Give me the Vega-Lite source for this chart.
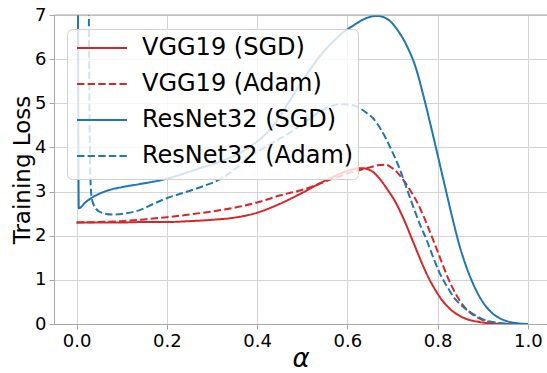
{
  "$schema": "https://vega.github.io/schema/vega-lite/v6.json",
  "width": 493,
  "height": 309,
  "autosize": "none",
  "padding": {"left": 54, "top": 15, "right": 0, "bottom": 49},
  "config": {
    "view": {"stroke": null},
    "font": "DejaVu Sans",
    "axis": {"labelFont": "DejaVu Sans", "titleFont": "DejaVu Sans", "labelColor": "#000", "titleColor": "#000", "labelFontSize": 18, "tickColor": "#a8a8a8", "domainColor": "#a8a8a8", "gridColor": "#d4d4d4", "tickSize": 5, "titleFontWeight": "normal"},
    "legend": {"zindex": 1}
  },
  "datasets": {
    "curves": [
      {"a": 0.0, "loss": 2.30, "s": "VGG19 (SGD)"},
      {"a": 0.05, "loss": 2.30, "s": "VGG19 (SGD)"},
      {"a": 0.1, "loss": 2.30, "s": "VGG19 (SGD)"},
      {"a": 0.15, "loss": 2.31, "s": "VGG19 (SGD)"},
      {"a": 0.2, "loss": 2.31, "s": "VGG19 (SGD)"},
      {"a": 0.25, "loss": 2.33, "s": "VGG19 (SGD)"},
      {"a": 0.3, "loss": 2.36, "s": "VGG19 (SGD)"},
      {"a": 0.35, "loss": 2.41, "s": "VGG19 (SGD)"},
      {"a": 0.4, "loss": 2.52, "s": "VGG19 (SGD)"},
      {"a": 0.45, "loss": 2.72, "s": "VGG19 (SGD)"},
      {"a": 0.5, "loss": 2.97, "s": "VGG19 (SGD)"},
      {"a": 0.54, "loss": 3.19, "s": "VGG19 (SGD)"},
      {"a": 0.585, "loss": 3.41, "s": "VGG19 (SGD)"},
      {"a": 0.61, "loss": 3.50, "s": "VGG19 (SGD)"},
      {"a": 0.633, "loss": 3.53, "s": "VGG19 (SGD)"},
      {"a": 0.655, "loss": 3.46, "s": "VGG19 (SGD)"},
      {"a": 0.67, "loss": 3.31, "s": "VGG19 (SGD)"},
      {"a": 0.68, "loss": 3.18, "s": "VGG19 (SGD)"},
      {"a": 0.69, "loss": 3.03, "s": "VGG19 (SGD)"},
      {"a": 0.70, "loss": 2.88, "s": "VGG19 (SGD)"},
      {"a": 0.71, "loss": 2.70, "s": "VGG19 (SGD)"},
      {"a": 0.72, "loss": 2.49, "s": "VGG19 (SGD)"},
      {"a": 0.73, "loss": 2.26, "s": "VGG19 (SGD)"},
      {"a": 0.74, "loss": 2.01, "s": "VGG19 (SGD)"},
      {"a": 0.75, "loss": 1.76, "s": "VGG19 (SGD)"},
      {"a": 0.76, "loss": 1.51, "s": "VGG19 (SGD)"},
      {"a": 0.77, "loss": 1.27, "s": "VGG19 (SGD)"},
      {"a": 0.78, "loss": 1.05, "s": "VGG19 (SGD)"},
      {"a": 0.79, "loss": 0.86, "s": "VGG19 (SGD)"},
      {"a": 0.80, "loss": 0.69, "s": "VGG19 (SGD)"},
      {"a": 0.81, "loss": 0.54, "s": "VGG19 (SGD)"},
      {"a": 0.82, "loss": 0.42, "s": "VGG19 (SGD)"},
      {"a": 0.83, "loss": 0.32, "s": "VGG19 (SGD)"},
      {"a": 0.84, "loss": 0.24, "s": "VGG19 (SGD)"},
      {"a": 0.85, "loss": 0.18, "s": "VGG19 (SGD)"},
      {"a": 0.86, "loss": 0.13, "s": "VGG19 (SGD)"},
      {"a": 0.875, "loss": 0.08, "s": "VGG19 (SGD)"},
      {"a": 0.89, "loss": 0.05, "s": "VGG19 (SGD)"},
      {"a": 0.91, "loss": 0.02, "s": "VGG19 (SGD)"},
      {"a": 0.93, "loss": 0.005, "s": "VGG19 (SGD)"},
      {"a": 0.96, "loss": 0.0, "s": "VGG19 (SGD)"},
      {"a": 1.0, "loss": 0.0, "s": "VGG19 (SGD)"},

      {"a": 0.0, "loss": 2.30, "s": "VGG19 (Adam)"},
      {"a": 0.05, "loss": 2.31, "s": "VGG19 (Adam)"},
      {"a": 0.1, "loss": 2.33, "s": "VGG19 (Adam)"},
      {"a": 0.15, "loss": 2.37, "s": "VGG19 (Adam)"},
      {"a": 0.2, "loss": 2.42, "s": "VGG19 (Adam)"},
      {"a": 0.25, "loss": 2.48, "s": "VGG19 (Adam)"},
      {"a": 0.3, "loss": 2.55, "s": "VGG19 (Adam)"},
      {"a": 0.362, "loss": 2.66, "s": "VGG19 (Adam)"},
      {"a": 0.406, "loss": 2.77, "s": "VGG19 (Adam)"},
      {"a": 0.45, "loss": 2.91, "s": "VGG19 (Adam)"},
      {"a": 0.51, "loss": 3.07, "s": "VGG19 (Adam)"},
      {"a": 0.554, "loss": 3.24, "s": "VGG19 (Adam)"},
      {"a": 0.598, "loss": 3.40, "s": "VGG19 (Adam)"},
      {"a": 0.643, "loss": 3.53, "s": "VGG19 (Adam)"},
      {"a": 0.67, "loss": 3.60, "s": "VGG19 (Adam)"},
      {"a": 0.685, "loss": 3.61, "s": "VGG19 (Adam)"},
      {"a": 0.70, "loss": 3.53, "s": "VGG19 (Adam)"},
      {"a": 0.71, "loss": 3.44, "s": "VGG19 (Adam)"},
      {"a": 0.72, "loss": 3.32, "s": "VGG19 (Adam)"},
      {"a": 0.73, "loss": 3.18, "s": "VGG19 (Adam)"},
      {"a": 0.74, "loss": 3.02, "s": "VGG19 (Adam)"},
      {"a": 0.75, "loss": 2.85, "s": "VGG19 (Adam)"},
      {"a": 0.76, "loss": 2.65, "s": "VGG19 (Adam)"},
      {"a": 0.77, "loss": 2.42, "s": "VGG19 (Adam)"},
      {"a": 0.78, "loss": 2.17, "s": "VGG19 (Adam)"},
      {"a": 0.79, "loss": 1.91, "s": "VGG19 (Adam)"},
      {"a": 0.80, "loss": 1.65, "s": "VGG19 (Adam)"},
      {"a": 0.81, "loss": 1.38, "s": "VGG19 (Adam)"},
      {"a": 0.82, "loss": 1.12, "s": "VGG19 (Adam)"},
      {"a": 0.83, "loss": 0.89, "s": "VGG19 (Adam)"},
      {"a": 0.84, "loss": 0.69, "s": "VGG19 (Adam)"},
      {"a": 0.85, "loss": 0.52, "s": "VGG19 (Adam)"},
      {"a": 0.86, "loss": 0.38, "s": "VGG19 (Adam)"},
      {"a": 0.87, "loss": 0.28, "s": "VGG19 (Adam)"},
      {"a": 0.88, "loss": 0.20, "s": "VGG19 (Adam)"},
      {"a": 0.89, "loss": 0.14, "s": "VGG19 (Adam)"},
      {"a": 0.90, "loss": 0.09, "s": "VGG19 (Adam)"},
      {"a": 0.92, "loss": 0.04, "s": "VGG19 (Adam)"},
      {"a": 0.94, "loss": 0.01, "s": "VGG19 (Adam)"},
      {"a": 0.96, "loss": 0.0, "s": "VGG19 (Adam)"},
      {"a": 1.0, "loss": 0.0, "s": "VGG19 (Adam)"},

      {"a": 0.0, "loss": 30, "s": "ResNet32 (SGD)"},
      {"a": 0.005, "loss": 2.62, "s": "ResNet32 (SGD)"},
      {"a": 0.02, "loss": 2.76, "s": "ResNet32 (SGD)"},
      {"a": 0.037, "loss": 2.88, "s": "ResNet32 (SGD)"},
      {"a": 0.055, "loss": 2.97, "s": "ResNet32 (SGD)"},
      {"a": 0.074, "loss": 3.04, "s": "ResNet32 (SGD)"},
      {"a": 0.1, "loss": 3.10, "s": "ResNet32 (SGD)"},
      {"a": 0.14, "loss": 3.17, "s": "ResNet32 (SGD)"},
      {"a": 0.2, "loss": 3.29, "s": "ResNet32 (SGD)"},
      {"a": 0.25, "loss": 3.45, "s": "ResNet32 (SGD)"},
      {"a": 0.273, "loss": 3.53, "s": "ResNet32 (SGD)"},
      {"a": 0.31, "loss": 3.65, "s": "ResNet32 (SGD)"},
      {"a": 0.347, "loss": 3.80, "s": "ResNet32 (SGD)"},
      {"a": 0.385, "loss": 4.02, "s": "ResNet32 (SGD)"},
      {"a": 0.421, "loss": 4.32, "s": "ResNet32 (SGD)"},
      {"a": 0.44, "loss": 4.55, "s": "ResNet32 (SGD)"},
      {"a": 0.458, "loss": 4.83, "s": "ResNet32 (SGD)"},
      {"a": 0.477, "loss": 5.13, "s": "ResNet32 (SGD)"},
      {"a": 0.495, "loss": 5.43, "s": "ResNet32 (SGD)"},
      {"a": 0.515, "loss": 5.73, "s": "ResNet32 (SGD)"},
      {"a": 0.532, "loss": 5.97, "s": "ResNet32 (SGD)"},
      {"a": 0.55, "loss": 6.20, "s": "ResNet32 (SGD)"},
      {"a": 0.569, "loss": 6.40, "s": "ResNet32 (SGD)"},
      {"a": 0.59, "loss": 6.60, "s": "ResNet32 (SGD)"},
      {"a": 0.613, "loss": 6.76, "s": "ResNet32 (SGD)"},
      {"a": 0.64, "loss": 6.92, "s": "ResNet32 (SGD)"},
      {"a": 0.666, "loss": 6.98, "s": "ResNet32 (SGD)"},
      {"a": 0.69, "loss": 6.90, "s": "ResNet32 (SGD)"},
      {"a": 0.714, "loss": 6.62, "s": "ResNet32 (SGD)"},
      {"a": 0.733, "loss": 6.28, "s": "ResNet32 (SGD)"},
      {"a": 0.751, "loss": 5.83, "s": "ResNet32 (SGD)"},
      {"a": 0.77, "loss": 5.12, "s": "ResNet32 (SGD)"},
      {"a": 0.789, "loss": 4.32, "s": "ResNet32 (SGD)"},
      {"a": 0.805, "loss": 3.62, "s": "ResNet32 (SGD)"},
      {"a": 0.818, "loss": 3.05, "s": "ResNet32 (SGD)"},
      {"a": 0.833, "loss": 2.40, "s": "ResNet32 (SGD)"},
      {"a": 0.848, "loss": 1.80, "s": "ResNet32 (SGD)"},
      {"a": 0.863, "loss": 1.32, "s": "ResNet32 (SGD)"},
      {"a": 0.878, "loss": 0.93, "s": "ResNet32 (SGD)"},
      {"a": 0.893, "loss": 0.62, "s": "ResNet32 (SGD)"},
      {"a": 0.908, "loss": 0.39, "s": "ResNet32 (SGD)"},
      {"a": 0.923, "loss": 0.23, "s": "ResNet32 (SGD)"},
      {"a": 0.938, "loss": 0.13, "s": "ResNet32 (SGD)"},
      {"a": 0.955, "loss": 0.06, "s": "ResNet32 (SGD)"},
      {"a": 0.975, "loss": 0.02, "s": "ResNet32 (SGD)"},
      {"a": 1.0, "loss": 0.0, "s": "ResNet32 (SGD)"},

      {"a": 0.0, "loss": 30, "s": "ResNet32 (Adam)"},
      {"a": 0.02, "loss": 30, "s": "ResNet32 (Adam)"},
      {"a": 0.027, "loss": 7.5, "s": "ResNet32 (Adam)"},
      {"a": 0.03, "loss": 3.6, "s": "ResNet32 (Adam)"},
      {"a": 0.033, "loss": 2.9, "s": "ResNet32 (Adam)"},
      {"a": 0.038, "loss": 2.7, "s": "ResNet32 (Adam)"},
      {"a": 0.044, "loss": 2.6, "s": "ResNet32 (Adam)"},
      {"a": 0.059, "loss": 2.51, "s": "ResNet32 (Adam)"},
      {"a": 0.081, "loss": 2.48, "s": "ResNet32 (Adam)"},
      {"a": 0.11, "loss": 2.51, "s": "ResNet32 (Adam)"},
      {"a": 0.14, "loss": 2.58, "s": "ResNet32 (Adam)"},
      {"a": 0.17, "loss": 2.72, "s": "ResNet32 (Adam)"},
      {"a": 0.2, "loss": 2.85, "s": "ResNet32 (Adam)"},
      {"a": 0.23, "loss": 2.95, "s": "ResNet32 (Adam)"},
      {"a": 0.258, "loss": 3.04, "s": "ResNet32 (Adam)"},
      {"a": 0.28, "loss": 3.12, "s": "ResNet32 (Adam)"},
      {"a": 0.318, "loss": 3.28, "s": "ResNet32 (Adam)"},
      {"a": 0.35, "loss": 3.50, "s": "ResNet32 (Adam)"},
      {"a": 0.384, "loss": 3.79, "s": "ResNet32 (Adam)"},
      {"a": 0.42, "loss": 4.02, "s": "ResNet32 (Adam)"},
      {"a": 0.458, "loss": 4.24, "s": "ResNet32 (Adam)"},
      {"a": 0.5, "loss": 4.52, "s": "ResNet32 (Adam)"},
      {"a": 0.532, "loss": 4.76, "s": "ResNet32 (Adam)"},
      {"a": 0.56, "loss": 4.92, "s": "ResNet32 (Adam)"},
      {"a": 0.584, "loss": 4.98, "s": "ResNet32 (Adam)"},
      {"a": 0.605, "loss": 4.97, "s": "ResNet32 (Adam)"},
      {"a": 0.62, "loss": 4.93, "s": "ResNet32 (Adam)"},
      {"a": 0.643, "loss": 4.78, "s": "ResNet32 (Adam)"},
      {"a": 0.657, "loss": 4.66, "s": "ResNet32 (Adam)"},
      {"a": 0.675, "loss": 4.40, "s": "ResNet32 (Adam)"},
      {"a": 0.698, "loss": 3.94, "s": "ResNet32 (Adam)"},
      {"a": 0.717, "loss": 3.49, "s": "ResNet32 (Adam)"},
      {"a": 0.73, "loss": 3.12, "s": "ResNet32 (Adam)"},
      {"a": 0.746, "loss": 2.66, "s": "ResNet32 (Adam)"},
      {"a": 0.76, "loss": 2.28, "s": "ResNet32 (Adam)"},
      {"a": 0.776, "loss": 1.90, "s": "ResNet32 (Adam)"},
      {"a": 0.79, "loss": 1.52, "s": "ResNet32 (Adam)"},
      {"a": 0.805, "loss": 1.15, "s": "ResNet32 (Adam)"},
      {"a": 0.82, "loss": 0.87, "s": "ResNet32 (Adam)"},
      {"a": 0.835, "loss": 0.62, "s": "ResNet32 (Adam)"},
      {"a": 0.85, "loss": 0.45, "s": "ResNet32 (Adam)"},
      {"a": 0.865, "loss": 0.32, "s": "ResNet32 (Adam)"},
      {"a": 0.88, "loss": 0.22, "s": "ResNet32 (Adam)"},
      {"a": 0.894, "loss": 0.14, "s": "ResNet32 (Adam)"},
      {"a": 0.91, "loss": 0.07, "s": "ResNet32 (Adam)"},
      {"a": 0.93, "loss": 0.03, "s": "ResNet32 (Adam)"},
      {"a": 0.95, "loss": 0.01, "s": "ResNet32 (Adam)"},
      {"a": 0.97, "loss": 0.0, "s": "ResNet32 (Adam)"},
      {"a": 1.0, "loss": 0.0, "s": "ResNet32 (Adam)"}
    ],
    "spine": [{"top": 7}]
  },
  "layer": [
    {
      "data": {"name": "curves"},
      "mark": {"type": "line", "strokeWidth": 2, "clip": true, "interpolate": "monotone"},
      "encoding": {
        "x": {"field": "a", "type": "quantitative", "scale": {"domain": [-0.05, 1.0426], "nice": false, "zero": false},
              "axis": {"values": [0, 0.2, 0.4, 0.6, 0.8, 1.0], "format": ".1f", "title": "α", "titleFontStyle": "italic", "titleFontSize": 26, "titlePadding": -5, "labelPadding": 3, "grid": true}},
        "y": {"field": "loss", "type": "quantitative", "scale": {"domain": [0, 7], "nice": false},
              "axis": {"values": [0, 1, 2, 3, 4, 5, 6, 7], "format": "d", "title": "Training Loss", "titleFontSize": 23, "titlePadding": 0, "labelPadding": 3, "grid": true}},
        "color": {"field": "s", "type": "nominal",
                  "scale": {"domain": ["VGG19 (SGD)", "VGG19 (Adam)", "ResNet32 (SGD)", "ResNet32 (Adam)"], "range": ["#d62728", "#d62728", "#1f77b4", "#1f77b4"]},
                  "legend": {"title": " ", "titleOrient": "bottom", "titleFontSize": 7, "titlePadding": 0, "orient": "none", "legendX": 13, "legendY": 14, "symbolType": "M-0.64,0H2.93", "symbolSize": 784, "symbolStrokeWidth": 2, "labelFontSize": 24, "labelFont": "DejaVu Sans", "labelColor": "#000", "labelOffset": 41, "labelLimit": 400, "rowPadding": 9, "padding": 4, "fillColor": "rgba(255,255,255,0.8)", "strokeColor": "#d0d0d0", "cornerRadius": 5, "zindex": 1}},
        "strokeDash": {"field": "s", "type": "nominal",
                       "scale": {"domain": ["VGG19 (SGD)", "VGG19 (Adam)", "ResNet32 (SGD)", "ResNet32 (Adam)"], "range": [[1, 0], [7.4, 3.2], [1, 0], [7.4, 3.2]]},
                       "legend": {"title": " "}}
      }
    },
    {
      "data": {"name": "spine"},
      "mark": {"type": "rule", "color": "#a8a8a8", "strokeWidth": 1},
      "encoding": {"y": {"field": "top", "type": "quantitative"}}
    }
  ]
}
